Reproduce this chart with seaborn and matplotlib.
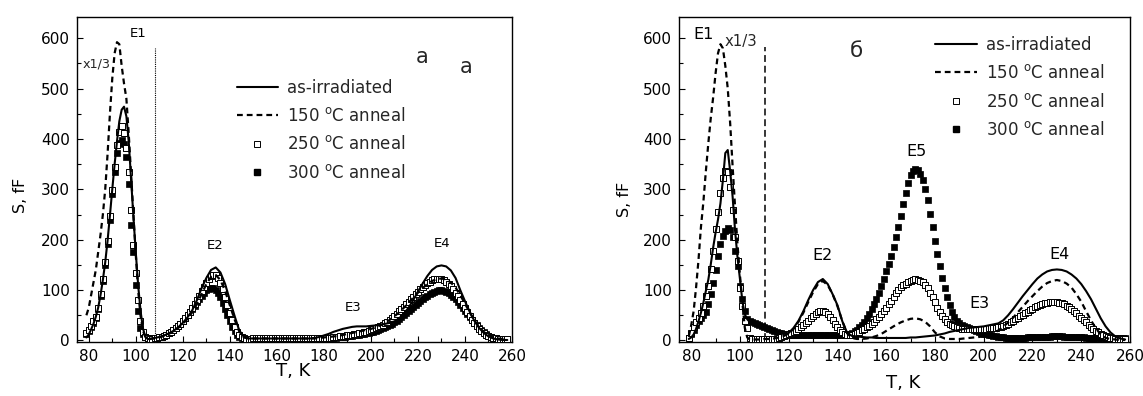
import matplotlib
matplotlib.use("Agg")
import matplotlib.pyplot as plt
from matplotlib.ticker import MultipleLocator
from matplotlib.lines import Line2D
import seaborn as sns
import pandas as pd

# ---------------- grids ----------------
T_sq = list(range(79, 259))                          # marker temperatures (K)
T_ln = list(range(79, 111)) + list(range(112, 259, 2))  # line temperatures (K)

# ---------------- panel a ----------------
a_asirr = [6, 12, 22, 33, 47, 65, 90, 120, 155, 198,
           248, 300, 350, 395, 435, 458, 464, 445, 395, 320,
           245, 175, 110, 60, 25, 8, 3, 3, 4, 5,
           6, 7,
           10, 14, 19, 26, 35, 46, 60, 80, 104, 124,
           140, 145, 135, 112, 80, 49, 20, 7, 4, 4,
           4, 4, 4, 4, 4, 4, 4, 4, 4, 4,
           4, 4, 5, 7, 10, 13, 17, 20, 23, 25,
           27, 28, 28, 28, 29, 30, 31, 33, 35, 38,
           44, 53, 65, 80, 97, 113, 128, 140, 147, 149,
           147, 139, 124, 100, 78, 57, 39, 25, 15, 8,
           4, 2, 1, 1]
a_150 = [50, 65, 90, 115, 140, 175, 210, 250, 300, 370,
         450, 520, 570, 592, 588, 545, 510, 480, 410, 330,
         250, 170, 100, 50, 20, 8, 4, 3, 4, 4,
         5, 6,
         9, 13, 18, 25, 33, 43, 56, 72, 92, 112,
         126, 130, 120, 98, 70, 42, 18, 6, 4, 4,
         4, 4, 4, 4, 4, 4, 4, 4, 4, 4,
         4, 4, 4, 5, 6, 7, 8, 9, 11, 13,
         15, 17, 19, 21, 23, 26, 30, 35, 41, 48,
         56, 65, 75, 85, 95, 104, 112, 118, 122, 123,
         121, 115, 105, 90, 73, 56, 40, 27, 17, 10,
         6, 4, 3, 3]
a_250 = [14, 21, 29, 38, 47, 64, 92, 122, 155, 198,
         248, 298, 345, 387, 413, 425, 412, 383, 335, 258,
         190, 134, 80, 38, 17, 7, 4, 3, 3, 4,
         5, 6, 7, 9, 11, 14, 17, 20, 24, 28,
         33, 38, 44, 50, 57, 64, 72, 80, 89, 98,
         107, 115, 122, 127, 130, 129, 124, 115, 102, 87,
         71, 55, 40, 27, 17, 10, 6, 4, 3, 3,
         3, 4, 4, 4, 4, 4, 4, 4, 4, 4,
         4, 4, 4, 4, 4, 4, 4, 4, 4, 4,
         4, 4, 4, 4, 4, 4, 4, 4, 4, 4,
         4, 4, 5, 5, 5, 6, 7, 7, 8, 8,
         9, 10, 10, 11, 12, 13, 14, 15, 16, 17,
         18, 20, 22, 24, 26, 28, 31, 34, 37, 40,
         44, 48, 52, 58, 62, 67, 72, 77, 82, 87,
         92, 97, 102, 106, 110, 114, 117, 120, 122, 123,
         123, 122, 120, 117, 113, 108, 102, 95, 88, 80,
         72, 64, 56, 48, 41, 34, 28, 23, 18, 14,
         11, 8, 6, 5, 4, 3, 3, 3, 3, 3]
a_300 = [12, 18, 26, 35, 45, 62, 88, 118, 150, 192,
         240, 290, 335, 372, 392, 398, 390, 365, 310, 230,
         175, 110, 58, 25, 12, 6, 4, 3, 3, 4,
         5, 6, 7, 9, 11, 14, 17, 20, 24, 28,
         33, 38, 44, 50, 56, 62, 69, 76, 83, 89,
         95, 100, 103, 105, 104, 101, 95, 86, 75, 63,
         50, 38, 27, 18, 11, 7, 4, 3, 3, 3,
         3, 3, 3, 3, 3, 3, 3, 3, 3, 3,
         3, 3, 3, 3, 3, 3, 3, 3, 3, 3,
         3, 3, 3, 3, 3, 3, 3, 3, 3, 3,
         3, 4, 4, 4, 4, 5, 5, 6, 6, 7,
         7, 8, 8, 9, 10, 10, 11, 12, 13, 14,
         15, 16, 17, 19, 20, 22, 24, 26, 28, 31,
         33, 36, 39, 42, 46, 50, 54, 58, 62, 66,
         70, 74, 78, 82, 86, 89, 92, 95, 97, 99,
         100, 100, 99, 97, 94, 91, 87, 82, 77, 71,
         65, 59, 53, 47, 41, 35, 30, 25, 20, 16,
         12, 9, 7, 5, 4, 3, 3, 3, 3, 3]

# ---------------- panel b ----------------
b_asirr = [3, 6, 12, 23, 38, 55, 75, 98, 120, 150,
           184, 214, 240, 272, 318, 372, 378, 335, 285, 218,
           165, 122, 78, 52, 42, 37, 34, 32, 30, 29,
           27, 26,
           21, 17, 14, 13, 15, 25, 39, 58, 80, 100,
           116, 122, 112, 92, 70, 38, 15, 9, 8, 7,
           6, 6, 5, 5, 5, 5, 5, 5, 5, 6,
           6, 7, 8, 9, 10, 12, 14, 17, 19, 21,
           23, 25, 26, 27, 28, 30, 32, 34, 40, 50,
           62, 75, 88, 100, 112, 123, 131, 137, 140, 141,
           140, 137, 131, 123, 112, 98, 82, 63, 44, 28,
           16, 8, 4, 2]
b_150 = [8, 30, 58, 105, 160, 225, 275, 335, 390, 440,
         482, 530, 570, 588, 580, 545, 500, 430, 345, 265,
         190, 130, 75, 25, 6, 2, 2, 2, 2, 2,
         2, 3,
         3, 4, 6, 9, 14, 23, 37, 55, 76, 96,
         112, 118, 110, 92, 68, 38, 14, 5, 3, 3,
         4, 6, 9, 13, 19, 25, 31, 36, 40, 43,
         44, 42, 37, 28, 16, 8, 4, 3, 3, 3,
         4, 5, 6, 7, 8, 10, 14, 20, 27, 36,
         45, 56, 67, 78, 88, 98, 107, 114, 118, 120,
         118, 113, 105, 92, 77, 58, 40, 24, 12, 5,
         3, 2, 1, 1]
b_250 = [5, 15, 26, 36, 45, 55, 68, 88, 108, 142,
         178, 222, 255, 293, 322, 337, 335, 305, 258, 205,
         158, 105, 68, 38, 25, 5, 2, 2, 2, 2,
         2, 2, 2, 2, 2, 2, 3, 4, 6, 8,
         10, 12, 14, 16, 19, 22, 26, 30, 34, 39,
         44, 49, 53, 56, 58, 59, 57, 53, 47, 40,
         33, 27, 21, 16, 12, 10, 10, 11, 13, 15,
         17, 20, 23, 26, 29, 32, 37, 42, 47, 52,
         58, 65, 72, 79, 86, 94, 101, 106, 110, 113,
         116, 119, 121, 122, 121, 119, 116, 111, 104, 95,
         86, 76, 65, 56, 48, 42, 37, 33, 31, 28,
         26, 24, 23, 22, 22, 22, 22, 22, 22, 22,
         23, 23, 23, 24, 24, 25, 25, 26, 27, 29,
         31, 33, 36, 39, 42, 45, 48, 51, 54, 57,
         60, 63, 66, 68, 70, 72, 74, 75, 76, 76,
         76, 76, 75, 74, 72, 69, 66, 62, 58, 54,
         49, 45, 40, 36, 31, 27, 23, 19, 16, 13,
         10, 8, 6, 5, 4, 3, 3, 3, 3, 3]
b_300 = [5, 12, 20, 30, 38, 45, 50, 56, 72, 92,
         115, 140, 168, 192, 208, 218, 223, 220, 205, 178,
         148, 108, 82, 58, 42, 38, 36, 35, 33, 31,
         29, 27, 25, 23, 21, 19, 17, 15, 14, 13,
         12, 11, 10, 10, 10, 10, 10, 10, 10, 10,
         10, 10, 10, 10, 10, 10, 10, 10, 10, 10,
         10, 10, 10, 10, 11, 12, 13, 15, 18, 21,
         26, 31, 37, 45, 53, 62, 72, 83, 95, 108,
         122, 138, 152, 168, 185, 205, 225, 248, 270, 293,
         313, 328, 337, 341, 339, 330, 318, 300, 278, 252,
         225, 198, 172, 148, 125, 104, 86, 70, 56, 46,
         39, 34, 31, 28, 26, 24, 22, 20, 18, 16,
         14, 13, 12, 11, 10, 9, 8, 7, 6, 6,
         5, 5, 5, 5, 5, 5, 5, 5, 5, 6,
         6, 6, 6, 6, 7, 7, 7, 7, 7, 8,
         8, 8, 8, 8, 7, 7, 7, 7, 7, 6,
         6, 6, 6, 5, 5, 5, 5, 5, 5, 5,
         5, 5, 5, 5, 5, 5, 5, 5, 5, 5]

labels = ["as-irradiated", r"150 $^{\rm o}$C anneal",
          r"250 $^{\rm o}$C anneal", r"300 $^{\rm o}$C anneal"]
vline_a, vline_a_top = 108, 580
vline_b, vline_b_top = 110.3, 583

# ---------------- style ----------------
sns.set_theme(style="ticks")
plt.rcParams["font.family"] = ["DejaVu Sans"]
plt.rcParams["mathtext.fontset"] = "dejavusans"

fig = plt.figure(figsize=(11.43, 3.96), dpi=100)
W, H = 1143, 396
axA = fig.add_axes([77 / W, 54 / H, 435 / W, 325 / H])
axB = fig.add_axes([679 / W, 54 / H, 451 / W, 325 / H])

dash = (0, (2.6, 1.8))
MS = 19


def draw(ax, ln_solid, ln_dash, sq_open, sq_fill):
    dl = pd.DataFrame({"T": T_ln, "s": ln_solid, "d": ln_dash})
    ds = pd.DataFrame({"T": T_sq, "o": sq_open, "f": sq_fill})
    sns.scatterplot(data=ds, x="T", y="f", marker="s", s=MS, color="black",
                    edgecolor="black", linewidth=0.5, ax=ax, zorder=2)
    sns.scatterplot(data=ds, x="T", y="o", marker="s", s=MS, color="white",
                    edgecolor="black", linewidth=0.7, ax=ax, zorder=3)
    sns.lineplot(data=dl, x="T", y="s", color="black", lw=1.5, ax=ax,
                 zorder=4, estimator=None, sort=False)
    sns.lineplot(data=dl, x="T", y="d", color="black", lw=1.6, ax=ax,
                 linestyle=dash, zorder=4, estimator=None, sort=False)


draw(axA, a_asirr, a_150, a_250, a_300)
draw(axB, b_asirr, b_150, b_250, b_300)

axA.vlines(vline_a, 0, vline_a_top, colors="black", linestyles=(0, (1, 1)), lw=0.8)
axB.vlines(vline_b, 0, vline_b_top, colors="black", linestyles=(0, (4.5, 2.5)), lw=1.1)

for ax in (axA, axB):
    ax.set_xlim(75, 260)
    ax.set_ylim(-3, 642)
    ax.xaxis.set_major_locator(MultipleLocator(20))
    ax.xaxis.set_minor_locator(MultipleLocator(10))
    ax.yaxis.set_major_locator(MultipleLocator(100))
    ax.yaxis.set_minor_locator(MultipleLocator(50))
    ax.tick_params(which="both", direction="in", colors="black",
                   labelsize=11, width=0.8, pad=5)
    ax.tick_params(which="major", length=4)
    ax.tick_params(which="minor", length=3)
    for sp in ax.spines.values():
        sp.set_visible(True)
        sp.set_color("black")
        sp.set_linewidth(1.0)
    ax.set_xlabel("T, K", fontsize=13, color="black")
    ax.set_ylabel("S, fF", fontsize=11.5, color="black")

axA.xaxis.set_label_coords(0.497, -0.062)
axB.xaxis.set_label_coords(0.497, -0.098)
axA.yaxis.set_label_coords(-0.113, 0.45)
axB.yaxis.set_label_coords(-0.104, 0.44)

handles = [
    Line2D([], [], color="black", lw=1.5),
    Line2D([], [], color="black", lw=1.6, linestyle=dash),
    Line2D([], [], color="black", marker="s", markersize=4.2, markerfacecolor="white",
           markeredgewidth=0.7, linestyle="none"),
    Line2D([], [], color="black", marker="s", markersize=4.2, markerfacecolor="black",
           linestyle="none"),
]
for ax, anchor in ((axA, (0.367, 0.81)), (axB, (0.568, 0.942))):
    ax.legend(handles, labels, loc="upper left", bbox_to_anchor=anchor,
              frameon=False, borderpad=0, borderaxespad=0, fontsize=12,
              handlelength=2.5, handletextpad=0.55, labelspacing=0.62,
              numpoints=1)

# annotations panel a
ta = dict(ha="center", va="center", fontsize=9.5, color="black")
axA.text(83.4, 549, "x1/3", ha="center", va="center", fontsize=9.2)
axA.text(101.2, 609, "E1", **ta)
axA.text(133.8, 189, "E2", **ta)
axA.text(192.6, 66, "E3", **ta)
axA.text(230.2, 192, "E4", **ta)
axA.text(221.6, 562, "a", ha="center", va="center", fontsize=15)
axA.text(240.4, 543, "a", ha="center", va="center", fontsize=15)

# annotations panel b
tb = dict(ha="center", va="center", fontsize=11.5, color="black")
axB.text(85.2, 607, "E1", **tb)
axB.text(100.5, 593, "x1/3", ha="center", va="center", fontsize=10.7)
axB.text(147.6, 574, "б", ha="center", va="center", fontsize=15.5)
axB.text(133.9, 168, "E2", **tb)
axB.text(172.3, 376, "E5", **tb)
axB.text(198.3, 73, "E3", **tb)
axB.text(231.2, 171, "E4", **tb)

fig.savefig("out.png", dpi=100)
